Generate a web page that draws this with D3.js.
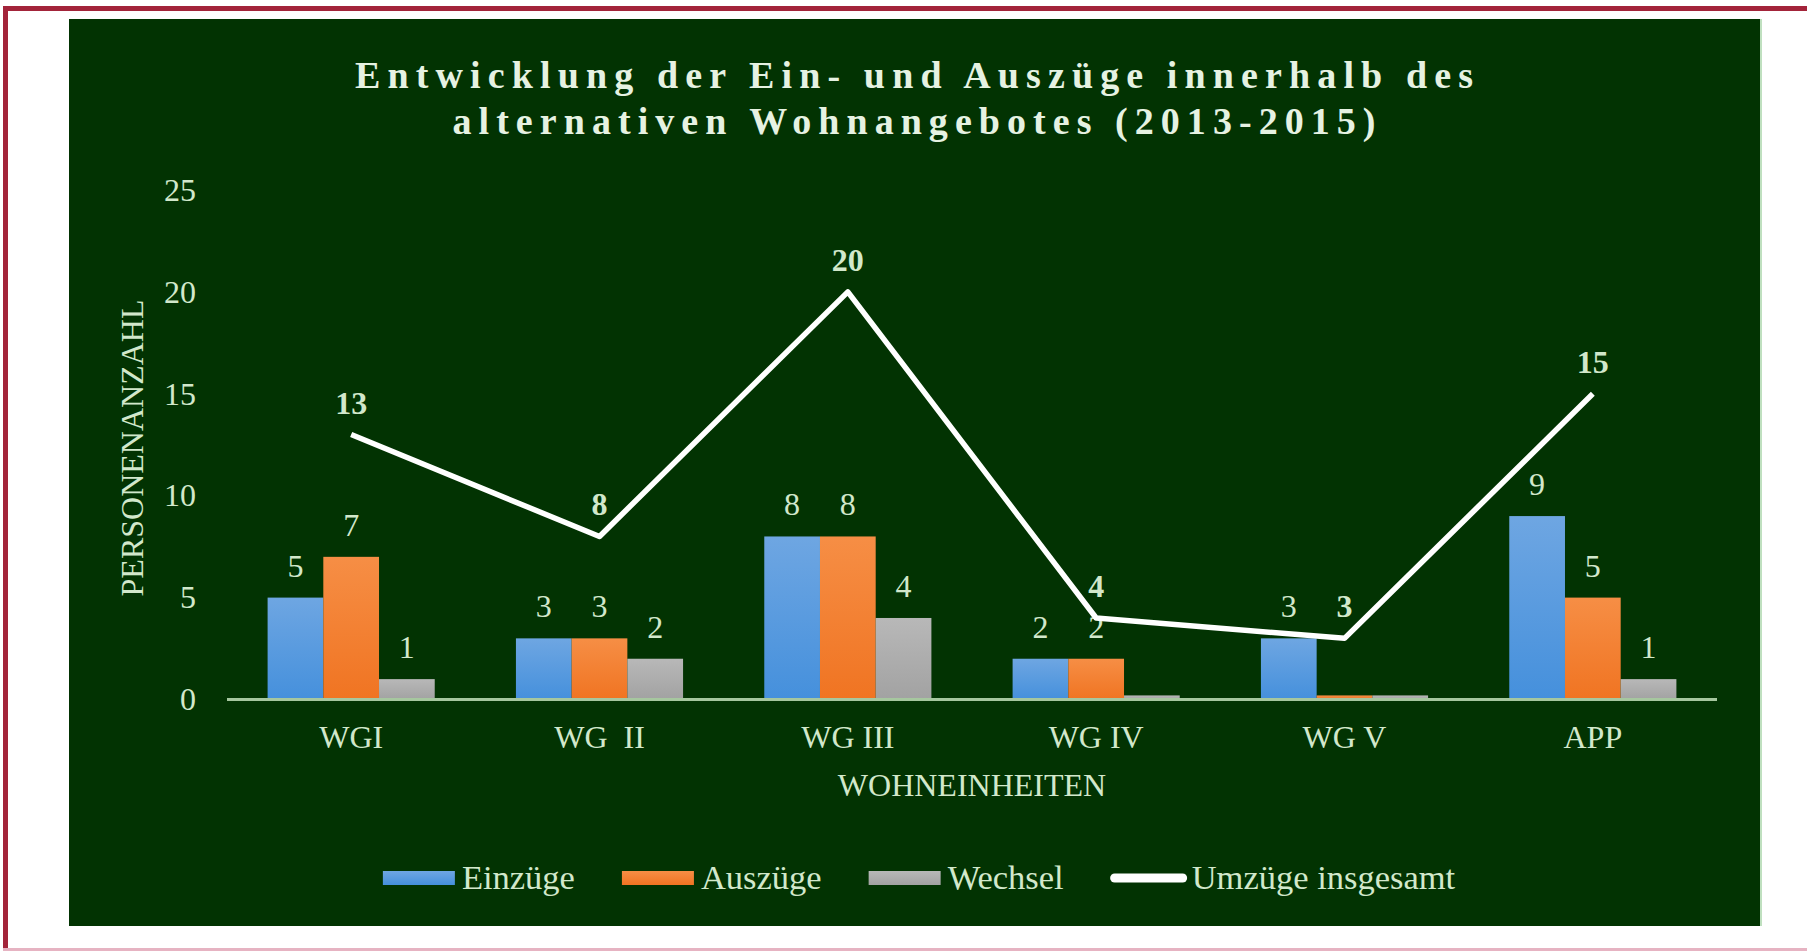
<!DOCTYPE html>
<html>
<head>
<meta charset="utf-8">
<script src="https://cdn.jsdelivr.net/npm/d3@7"></script>
<style>
body{margin:0;background:#ffffff;}
text{font-family:"Liberation Serif","Times New Roman",serif;}
</style>
</head>
<body>
<svg id="chart"></svg>
<script>
// chart data
var categories = ["WGI", "WG  II", "WG III", "WG IV", "WG V", "APP"];
var seriesNames = ["Einzüge", "Auszüge", "Wechsel"];
var einzuege = [5, 3, 8, 2, 3, 9];
// the 0 cells show as a thin stub in the picture
var auszuege = [7, 3, 8, 2, 0.2, 5];
var wechsel = [1, 2, 4, 0.2, 0.2, 1];
var lineName = "Umzüge insgesamt";
var umzuege = [13, 8, 20, 4, 3, 15];
var yTicks = [0, 5, 10, 15, 20, 25];
var titleLines = ["Entwicklung der Ein- und Auszüge innerhalb des",
                  "alternativen Wohnangebotes (2013-2015)"];
var xTitle = "WOHNEINHEITEN";
var yTitle = "PERSONENANZAHL";

var seriesValues = [einzuege, auszuege, wechsel];
var seriesColors = [["#6ea6e2", "#4590dc"], ["#f68e45", "#f07422"], ["#b8b8b8", "#a2a2a2"]];
var textColor = "#d2e8cb";

var screen = {width:1807, height:951};
var margins = {top:190, bottom:251.5, left:227, right:90};
var graph = {
    width: screen.width - margins.left - margins.right,
    height: screen.height - margins.top - margins.bottom
};

var svg = d3.select("#chart")
    .attr("width", screen.width)
    .attr("height", screen.height);

// page frame: red lines left and top, pink line at the bottom
svg.append("rect").attr("x", 3).attr("y", 6).attr("width", 5).attr("height", 945).attr("fill", "#a3243a");
svg.append("rect").attr("x", 3).attr("y", 6).attr("width", 1804).attr("height", 5).attr("fill", "#a3243a");
svg.append("rect").attr("x", 3).attr("y", 948).attr("width", 1804).attr("height", 3).attr("fill", "#e6b3c2");

// dark green chart area
svg.append("rect")
    .attr("x", 69).attr("y", 19)
    .attr("width", 1692).attr("height", 907)
    .attr("fill", "#023302");
svg.append("rect")
    .attr("x", 1760).attr("y", 19)
    .attr("width", 2).attr("height", 907)
    .attr("fill", "#bfe0bf");

// gradients for the bars
var defs = svg.append("defs");
seriesColors.forEach(function(c, i)
{
    var grad = defs.append("linearGradient")
        .attr("id", "grad" + i)
        .attr("x1", 0).attr("y1", 0).attr("x2", 0).attr("y2", 1);
    grad.append("stop").attr("offset", "0%").attr("stop-color", c[0]);
    grad.append("stop").attr("offset", "100%").attr("stop-color", c[1]);
});

// title
svg.selectAll(".title")
    .data(titleLines)
    .enter()
    .append("text")
    .classed("title", true)
    .attr("x", 914)
    .attr("y", function(d, i) { return 88 + i * 46; })
    .attr("text-anchor", "middle")
    .attr("font-size", 38)
    .attr("font-weight", "bold")
    .attr("font-family", "Liberation Serif")
    .attr("fill", "#e6f2e2")
    .attr("textLength", function(d, i) { return i == 0 ? 1118 : 923; })
    .attr("lengthAdjust", "spacing")
    .text(function(d) { return d; });

var g = svg.append("g")
    .attr("transform", "translate(" + margins.left + "," + margins.top + ")");

// scales
var xScale = d3.scaleBand()
    .domain(categories)
    .range([0, graph.width])
    .paddingInner(0.327)
    .paddingOuter(0.1635);

var xSub = d3.scaleBand()
    .domain(seriesNames)
    .range([0, xScale.bandwidth()]);

var yScale = d3.scaleLinear()
    .domain([0, 25])
    .range([graph.height, 0]);

// y axis labels only
var yAxis = g.append("g")
    .call(d3.axisLeft(yScale).tickValues(yTicks).tickSize(0).tickPadding(31));
yAxis.select(".domain").remove();
yAxis.selectAll("text")
    .attr("font-size", 32)
    .attr("font-family", "Liberation Serif")
    .attr("fill", textColor);

// x axis labels
var xAxis = g.append("g")
    .attr("transform", "translate(0," + graph.height + ")")
    .call(d3.axisBottom(xScale).tickSize(0).tickPadding(26));
xAxis.select(".domain").remove();
xAxis.selectAll("text")
    .attr("font-size", 32)
    .attr("font-family", "Liberation Serif")
    .attr("fill", textColor)
    .style("white-space", "pre");

// bars
var groups = g.selectAll(".cat")
    .data(categories)
    .enter()
    .append("g")
    .classed("cat", true)
    .attr("transform", function(d) { return "translate(" + xScale(d) + ",0)"; });

groups.selectAll("rect")
    .data(function(d, ci)
    {
        return seriesNames.map(function(s, si)
        {
            return {series:s, index:si, value:seriesValues[si][ci]};
        });
    })
    .enter()
    .append("rect")
    .attr("x", function(d) { return xSub(d.series); })
    .attr("y", function(d) { return yScale(d.value); })
    .attr("width", xSub.bandwidth())
    .attr("height", function(d) { return yScale(0) - yScale(d.value); })
    .attr("fill", function(d) { return "url(#grad" + d.index + ")"; });

// bar value labels (stubs get none)
groups.selectAll(".barlabel")
    .data(function(d, ci)
    {
        return seriesNames.map(function(s, si)
        {
            return {series:s, value:seriesValues[si][ci]};
        }).filter(function(d) { return d.value >= 1; });
    })
    .enter()
    .append("text")
    .classed("barlabel", true)
    .attr("x", function(d) { return xSub(d.series) + xSub.bandwidth() / 2; })
    .attr("y", function(d) { return yScale(d.value) - 21; })
    .attr("text-anchor", "middle")
    .attr("font-size", 32)
    .attr("fill", textColor)
    .text(function(d) { return d.value; });

// base line
g.append("line")
    .attr("x1", 0).attr("x2", graph.width)
    .attr("y1", yScale(0)).attr("y2", yScale(0))
    .attr("stroke", "#a6c79f")
    .attr("stroke-width", 3);

// total line
var line = d3.line()
    .x(function(d, i) { return xScale(categories[i]) + xScale.bandwidth() / 2; })
    .y(function(d) { return yScale(d); });

g.append("path")
    .datum(umzuege)
    .attr("d", line)
    .attr("fill", "none")
    .attr("stroke", "#ffffff")
    .attr("stroke-width", 5.5)
    .attr("stroke-linejoin", "round");

g.selectAll(".linelabel")
    .data(umzuege)
    .enter()
    .append("text")
    .classed("linelabel", true)
    .attr("x", function(d, i) { return xScale(categories[i]) + xScale.bandwidth() / 2; })
    .attr("y", function(d) { return yScale(d) - 21; })
    .attr("text-anchor", "middle")
    .attr("font-size", 32)
    .attr("font-weight", "bold")
    .attr("fill", textColor)
    .text(function(d) { return d; });

// axis titles
svg.append("text")
    .attr("x", margins.left + graph.width / 2)
    .attr("y", 796)
    .attr("text-anchor", "middle")
    .attr("font-size", 32)
    .attr("fill", textColor)
    .text(xTitle);

svg.append("text")
    .attr("transform", "translate(143,448) rotate(-90)")
    .attr("text-anchor", "middle")
    .attr("font-size", 32)
    .attr("fill", textColor)
    .text(yTitle);

// legend
var legend = svg.append("g");
var legendItems = seriesNames.map(function(s, i) { return {name:s, index:i, kind:"bar"}; });
legendItems.push({name:lineName, index:3, kind:"line"});

var lx = 0;
legendItems.forEach(function(item)
{
    if (item.kind == "bar")
    {
        legend.append("rect")
            .attr("x", lx).attr("y", -7)
            .attr("width", 72).attr("height", 14)
            .attr("fill", "url(#grad" + item.index + ")");
        lx += 79;
    }
    else
    {
        legend.append("line")
            .attr("x1", lx + 4).attr("x2", lx + 72)
            .attr("y1", 0).attr("y2", 0)
            .attr("stroke", "#ffffff")
            .attr("stroke-width", 9)
            .attr("stroke-linecap", "round");
        lx += 81;
    }
    var t = legend.append("text")
        .attr("x", lx).attr("y", 11)
        .attr("font-size", 34.5)
        .attr("fill", textColor)
        .text(item.name);
    lx += t.node().getComputedTextLength() + 47;
});
lx -= 47;
legend.attr("transform", "translate(" + (919 - lx / 2) + ",878)");
</script>
</body>
</html>
